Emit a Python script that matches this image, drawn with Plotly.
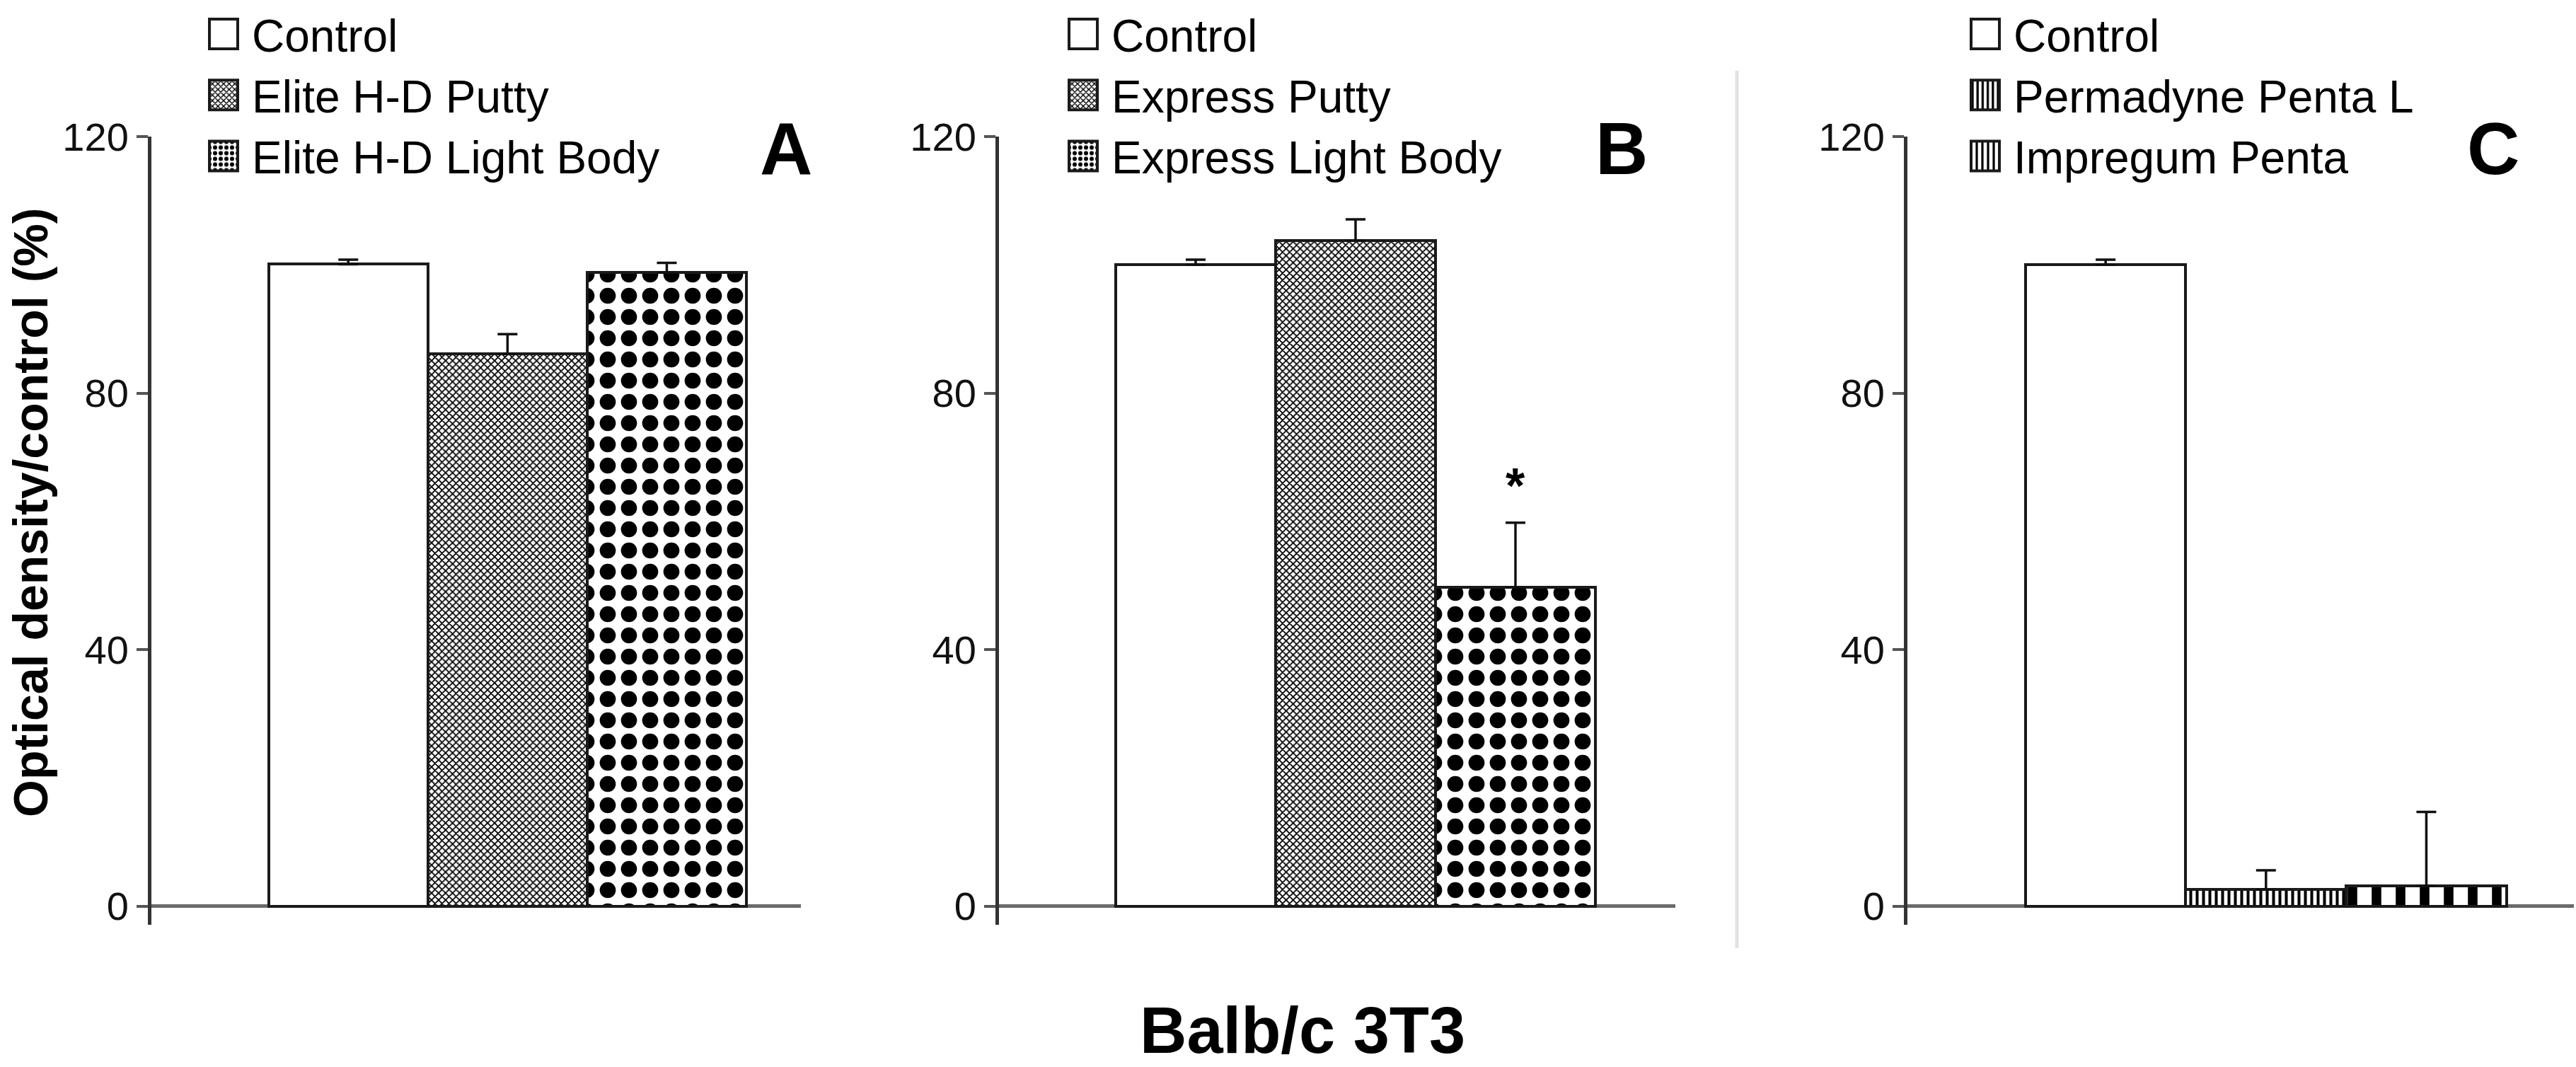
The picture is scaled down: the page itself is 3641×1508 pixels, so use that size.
import plotly.graph_objects as go

# ------------------------------------------------------------------
# DATA (% of control)
# ------------------------------------------------------------------
a_labels = ["Control", "Elite H-D Putty", "Elite H-D Light Body"]
a_values = [100.1, 86.1, 98.8]
a_errors = [0.7, 3.1, 1.5]

b_labels = ["Control", "Express Putty", "Express Light Body"]
b_values = [100.0, 103.8, 49.7]
b_errors = [0.8, 3.3, 10.1]

c_labels = ["Control", "Permadyne Penta L", "Impregum Penta"]
c_values = [100.0, 2.6, 3.2]
c_errors = [0.8, 3.0, 11.5]

y_ticks = [0, 40, 80, 120]
panel_letters = ["A", "B", "C"]

# fill pattern per bar position (control, putty, light body)
patterns = [
    [None, dict(shape="x", size=7, solidity=0.45), dict(shape=".", size=30, solidity=0.45)],
    [None, dict(shape="x", size=7, solidity=0.45), dict(shape=".", size=30, solidity=0.45)],
    [None, dict(shape="|", size=9, solidity=0.45), dict(shape="|", size=34, solidity=0.4)],
]

W, H = 3641, 1508
FONT = "Liberation Sans, Arial, sans-serif"
TICKFONT = "Liberation Sans Narrow, Arial Narrow, Liberation Sans, Arial, sans-serif"

x_domains = [[214 / W, 1132 / W], [1412 / W, 2368 / W], [2696 / W, 3638 / W]]
x_ranges = [[-1.236, 2.842], [-1.23, 3.0], [-1.236, 2.92]]
y_domain = [1 - 1307 / H, 1 - 193 / H]
legend_x = [276, 1491, 2766]
letter_x = [1111, 2292, 3524]

fig = go.Figure()

panels = [
    (a_labels, a_values, a_errors),
    (b_labels, b_values, b_errors),
    (c_labels, c_values, c_errors),
]

for p, (labels, values, errors) in enumerate(panels):
    sfx = "" if p == 0 else str(p + 1)
    for i, (lab, val, err) in enumerate(zip(labels, values, errors)):
        pat = patterns[p][i]
        marker = dict(color="white", line=dict(color="#1a1a1a", width=4))
        if pat is not None:
            marker["pattern"] = dict(fgcolor="black", bgcolor="white", fillmode="replace", **pat)
        fig.add_trace(go.Bar(
            x=[lab], y=[val], name=lab, width=1,
            marker=marker,
            error_y=dict(type="data", array=[err], arrayminus=[0], symmetric=False,
                         color="#111", thickness=3.5, width=14),
            xaxis="x" + sfx, yaxis="y" + sfx,
            legend="legend" + sfx,
            showlegend=True,
        ))

    fig.update_layout({
        "xaxis" + sfx: dict(domain=x_domains[p], range=x_ranges[p], anchor="y" + sfx,
                            categoryorder="array", categoryarray=labels,
                            showticklabels=False, showgrid=False, zeroline=False,
                            showline=False, ticks="", automargin=False),
        "yaxis" + sfx: dict(domain=y_domain, range=[-2.9, 120], anchor="x" + sfx,
                            tickvals=y_ticks, ticks="outside", ticklen=16, tickwidth=4,
                            tickcolor="#555", showline=True, linecolor="#333", linewidth=5,
                            showgrid=False, zeroline=True, zerolinecolor="#6a6a6a",
                            zerolinewidth=5, automargin=False,
                            tickfont=dict(family=TICKFONT, size=56, color="#111")),
        "legend" + sfx: dict(x=legend_x[p] / W, y=1.0, xanchor="left", yanchor="top",
                             font=dict(family=FONT, size=64, color="black"),
                             itemwidth=70, bgcolor="rgba(0,0,0,0)", tracegroupgap=0),
    })
    # panel letter
    fig.add_annotation(x=letter_x[p] / W, y=1 - 210 / H, xref="paper", yref="paper",
                       xanchor="center", yanchor="middle",
                       text="<b>%s</b>" % panel_letters[p], showarrow=False,
                       font=dict(family=FONT, size=103, color="black"))

# significance mark over Express Light Body
fig.add_annotation(x=b_labels[2], y=65.5, xref="x2", yref="y2", text="<b>*</b>",
                   xanchor="center", yanchor="middle",
                   showarrow=False, font=dict(family=FONT, size=70, color="black"))

# shared axis titles
fig.add_annotation(x=43 / W, y=1 - 725 / H, xref="paper", yref="paper",
                   xanchor="center", yanchor="middle",
                   text="<b>Optical density/control (%)</b>", textangle=-90, showarrow=False,
                   font=dict(family=FONT, size=68, color="black"))
fig.add_annotation(x=1841 / W, y=1 - 1456 / H, xref="paper", yref="paper",
                   xanchor="center", yanchor="middle",
                   text="<b>Balb/c 3T3</b>", showarrow=False,
                   font=dict(family=FONT, size=92, color="black"))

# light divider between panels B and C
fig.add_shape(type="line", xref="paper", yref="paper",
              x0=2455 / W, x1=2455 / W, y0=1 - 1340 / H, y1=1 - 100 / H,
              line=dict(color="#e2e2e2", width=5))

fig.update_layout(
    width=W, height=H, autosize=False,
    margin=dict(l=0, r=0, t=0, b=0, pad=0),
    plot_bgcolor="white", paper_bgcolor="white",
    barmode="overlay", bargap=0,
    font=dict(family=FONT, color="black"),
)

# bigger legend keys, and no page margin
post = """
document.body.style.margin = '0';
var gd = document.getElementById('{plot_id}');
gd.querySelectorAll('.legendpoints path').forEach(function (p) {
    p.setAttribute('d', 'M20,21H-20V-21H20Z');
});
"""

fig.write_html("out.html", post_script=post, config={"displayModeBar": False})
